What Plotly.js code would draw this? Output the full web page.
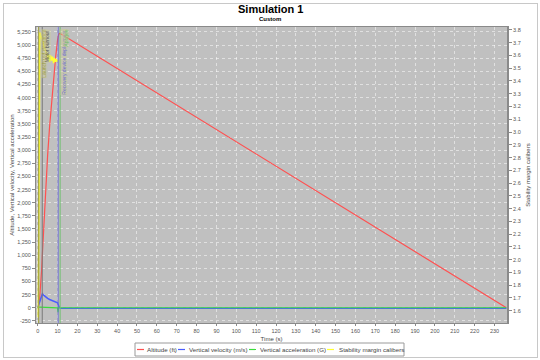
<!DOCTYPE html>
<html>
<head>
<meta charset="utf-8">
<script src="https://cdn.plot.ly/plotly-3.0.1.min.js"></script>
<style>
  html, body { margin: 0; padding: 0; background: #ffffff; }
  #wrap { position: relative; width: 540px; height: 360px; }
  #chart { position: absolute; left: 0; top: 0; width: 540px; height: 360px; }
  #frame { position: absolute; left: 3px; top: 3px; width: 533px; height: 353px; border: 1px solid #c8c8c8; pointer-events: none; }
</style>
</head>
<body>
<div id="wrap"><div id="chart"></div><div id="frame"></div></div>
<script>
// ---- data ----
const altTime = [0, 0.5, 1, 1.5, 2, 2.4, 3, 4, 5, 6, 7, 8, 9, 10, 10.3, 10.6, 11, 11.3, 12, 236];
const altitudeFt = [0, 45, 182, 409, 727, 1047, 1545, 2273, 2901, 3452, 3941, 4374, 4758, 5094, 5170, 5209, 5222, 5220, 5205, 0];

const velTime = [0, 0.5, 1, 1.5, 2, 2.4, 3, 4, 5, 6, 7, 8, 9, 10, 10.3, 10.6, 11, 11.5, 236];
const velocityMs = [0, 55, 110, 165, 220, 266, 240, 205, 178, 158, 140, 124, 110, 95, 60, 20, 0, -7, -7];

const accTime = [0, 0.3, 1, 2, 2.4, 2.5, 3, 4, 5, 6, 7, 8, 9, 10, 10.2, 10.3, 10.5, 11, 236];
const accelerationG = [0, 12, 11, 10, 9, -3, -2.5, -2, -1.6, -1.3, -1.1, -1, -0.9, -0.8, -85, -20, 0.5, 0, 0];

const stabTime = [0.3, 0.7, 1.1, 1.5, 2, 2.5, 3, 3.5, 4, 4.5, 5, 5.5, 6, 6.5, 7, 7.5, 8, 8.5, 9, 9.5, 10];
const stabilityCal = [1.55, 3.0, 3.78, 3.76, 3.73, 3.70, 3.67, 3.65, 3.63, 3.62, 3.57, 3.61, 3.55, 3.60, 3.56, 3.59, 3.54, 3.58, 3.55, 3.57, 3.55];

const eventNames = ["Launch rod clearance", "Motor burnout", "Recovery device deployment", "Apogee"];
const eventTimes = [0.5, 2.3, 10.3, 11.3];
const eventColors = ["#9c9c3c", "#7a7a7a", "#6a6ad0", "#70c070"];

const leftTicks = [];
for (let v = -250; v <= 5250; v += 250) leftTicks.push(v);
const leftTickText = leftTicks.map(v => (v < 0 ? "-" : "") + Math.abs(v).toLocaleString("en-US"));
const xTicks = [];
for (let v = 0; v <= 230; v += 10) xTicks.push(v);
const rightTicks = [];
for (let v = 16; v <= 38; v += 1) rightTicks.push(v / 10);

const seriesNames = ["Altitude (ft)", "Vertical velocity (m/s)", "Vertical acceleration (G)", "Stability margin calibers"];
const seriesColors = ["#ff5050", "#4a5cff", "#3cdc3c", "#ffff33"];

// ---- geometry helpers (plot area: x 36..507, y 27..323 px) ----
const PL = 36, PR = 507, PT = 27, PB = 323;
const px2x = p => (p - PL) / (PR - PL);
const py2y = p => (PB - p) / (PB - PT);

const font = "Liberation Sans, Arial, sans-serif";
const traces = [
  { x: altTime, y: altitudeFt, name: seriesNames[0], type: "scatter", mode: "lines", line: { color: seriesColors[0], width: 1.2 } },
  { x: velTime, y: velocityMs, name: seriesNames[1], type: "scatter", mode: "lines", line: { color: seriesColors[1], width: 1.5 } },
  { x: accTime, y: accelerationG, name: seriesNames[2], type: "scatter", mode: "lines", line: { color: seriesColors[2], width: 1.2 } },
  { x: stabTime, y: stabilityCal, name: seriesNames[3], type: "scatter", mode: "lines", yaxis: "y2", line: { color: seriesColors[3], width: 1.5 } }
];

const shapes = eventTimes.map((t, i) => ({
  type: "line", xref: "x", yref: "paper", x0: t, x1: t, y0: 0, y1: 1,
  line: { color: eventColors[i], width: 1 }, layer: "above"
}));

const annotations = eventTimes.map((t, i) => ({
  x: t, xref: "x", y: 1, yref: "paper", text: eventNames[i], showarrow: false,
  textangle: -90, xanchor: "left", yanchor: "top", xshift: 1, yshift: -2,
  font: { family: font, size: 5, color: eventColors[i] === "#7a7a7a" ? "#555" : eventColors[i] },
  bgcolor: "rgba(205,205,150,0.45)", borderpad: 0
}));
annotations.push({
  x: px2x(270), xref: "paper", y: py2y(9), yref: "paper", text: "<b>Simulation 1</b>", showarrow: false,
  xanchor: "center", yanchor: "middle", font: { family: font, size: 11, color: "#000" }
});
annotations.push({
  x: px2x(270), xref: "paper", y: py2y(19.5), yref: "paper", text: "<b>Custom</b>", showarrow: false,
  xanchor: "center", yanchor: "middle", font: { family: font, size: 6, color: "#000" }
});

// ---- legend drawn as a box with line samples and text ----
const legBox = { x0: 135, x1: 404, y0: 343, y1: 356 };
const legLineX = [137, 178, 249, 327];
const legTextX = [146, 188, 259, 338];
const legMidY = 349.5;
shapes.push({
  type: "rect", xref: "paper", yref: "paper",
  x0: px2x(legBox.x0), x1: px2x(legBox.x1), y0: py2y(legBox.y1), y1: py2y(legBox.y0),
  line: { color: "#9a9a9a", width: 1 }, fillcolor: "#ffffff", layer: "above"
});
seriesNames.forEach((name, i) => {
  shapes.push({
    type: "line", xref: "paper", yref: "paper",
    x0: px2x(legLineX[i]), x1: px2x(legLineX[i] + 7), y0: py2y(legMidY), y1: py2y(legMidY),
    line: { color: seriesColors[i], width: 1.2 }, layer: "above"
  });
  annotations.push({
    x: px2x(legTextX[i]), xref: "paper", y: py2y(legMidY), yref: "paper", text: name, showarrow: false,
    xanchor: "left", yanchor: "middle", font: { family: font, size: 6.2, color: "#444" }, borderpad: 0
  });
});

const layout = {
  width: 540, height: 360,
  margin: { l: PL, r: 540 - PR, t: PT, b: 360 - PB, pad: 0 },
  paper_bgcolor: "#ffffff",
  plot_bgcolor: "#c0c0c0",
  font: { family: font, size: 6, color: "#444" },
  showlegend: false,
  xaxis: {
    automargin: false,
    range: [-0.85, 236.3], tickvals: xTicks, ticktext: xTicks.map(String),
    showgrid: true, gridcolor: "rgba(255,255,255,0.85)", gridwidth: 0.6, griddash: "dot",
    zeroline: false, showline: true, linecolor: "#8a8a8a", linewidth: 1, mirror: true,
    ticks: "outside", ticklen: 2, tickcolor: "#8a8a8a",
    tickfont: { family: font, size: 5.5, color: "#555" },
    title: { text: "Time (s)", font: { family: font, size: 6, color: "#444" }, standoff: 4 }
  },
  yaxis: {
    automargin: false,
    range: [-290, 5345], tickvals: leftTicks, ticktext: leftTickText,
    showgrid: true, gridcolor: "rgba(255,255,255,0.85)", gridwidth: 0.6, griddash: "dot",
    zeroline: false, showline: true, linecolor: "#8a8a8a", linewidth: 1,
    ticks: "outside", ticklen: 3, tickcolor: "#8a8a8a",
    tickfont: { family: font, size: 5.5, color: "#555" },
    title: { text: "Altitude, Vertical velocity, Vertical acceleration", font: { family: font, size: 6, color: "#444" }, standoff: 2 }
  },
  yaxis2: {
    automargin: false,
    overlaying: "y", side: "right", range: [1.504, 3.823],
    tickvals: rightTicks, ticktext: rightTicks.map(v => v.toFixed(1)),
    showgrid: false, zeroline: false, showline: true, linecolor: "#8a8a8a", linewidth: 2,
    ticks: "outside", ticklen: 3, tickcolor: "#8a8a8a",
    tickfont: { family: font, size: 5.5, color: "#555" },
    title: { text: "Stability margin calibers", font: { family: font, size: 6, color: "#444" }, standoff: 6 }
  },
  shapes: shapes,
  annotations: annotations
};

Plotly.newPlot("chart", traces, layout, { staticPlot: true, displayModeBar: false });
</script>
</body>
</html>
